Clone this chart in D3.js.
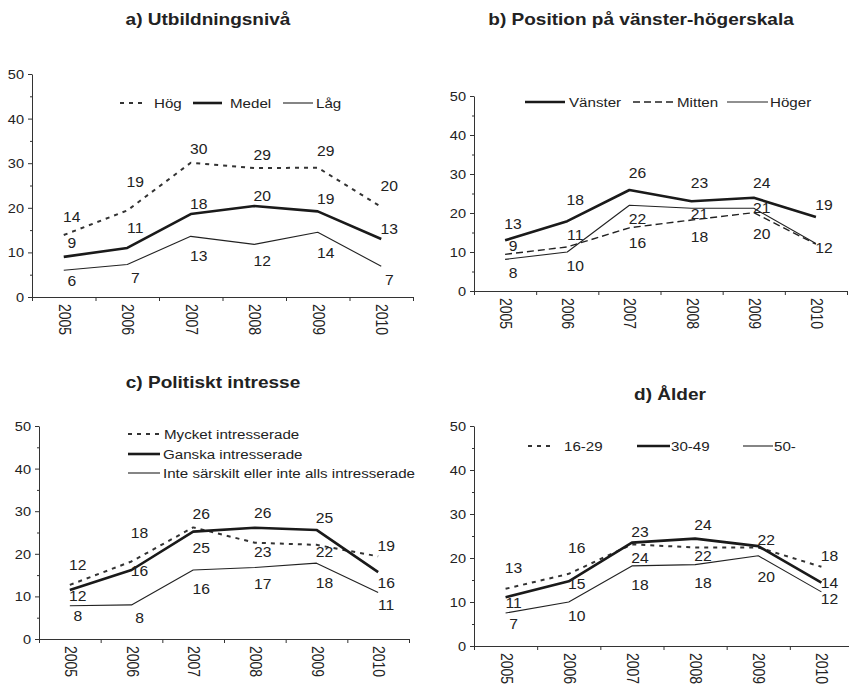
<!DOCTYPE html>
<html>
<head>
<meta charset="utf-8">
<script src="https://cdn.jsdelivr.net/npm/d3@7"></script>
<style>
body { margin: 0; background: #fff; }
text { font-family: "Liberation Sans", Arial, Helvetica, sans-serif; fill: #222; }
</style>
</head>
<body>
<svg width="849" height="688"></svg>
<script>
// shared axes
var years = ["2005", "2006", "2007", "2008", "2009", "2010"];
var yTicks = [0, 10, 20, 30, 40, 50];
var yMinor = [5, 15, 25, 35, 45];

// a) Utbildningsnivå
var utbHog = [13.9, 19.4, 30.1, 28.9, 29.0, 20.2];
var utbHogLbl = [14, 19, 30, 29, 29, 20];
var utbMedel = [9.0, 11.0, 18.6, 20.4, 19.2, 13.0];
var utbMedelLbl = [9, 11, 18, 20, 19, 13];
var utbLag = [6.0, 7.3, 13.6, 11.8, 14.5, 6.9];
var utbLagLbl = [6, 7, 13, 12, 14, 7];

// b) Position på vänster-högerskala
var posVanster = [13.0, 17.9, 25.9, 23.0, 23.9, 19.0];
var posVansterLbl = [13, 18, 26, 23, 24, 19];
var posMitten = [9.4, 11.3, 16.2, 18.2, 20.1, 12.0];
var posMittenLbl = [9, 11, 16, 18, 20, ""];
var posHoger = [8.1, 10.0, 22.0, 21.2, 21.2, 12.2];
var posHogerLbl = [8, 10, 22, 21, 21, 12];

// c) Politiskt intresse
var intMycket = [12.7, 18.2, 26.2, 22.6, 22.1, 19.4];
var intMycketLbl = [12, 18, 26, 23, 22, 19];
var intGanska = [11.5, 16.2, 25.2, 26.1, 25.6, 15.7];
var intGanskaLbl = [12, 16, 25, 26, 25, 16];
var intInte = [7.8, 8.0, 16.2, 16.8, 17.8, 10.9];
var intInteLbl = [8, 8, 16, 17, 18, 11];

// d) Ålder
var alder1629 = [13.0, 16.4, 23.1, 22.4, 22.4, 18.0];
var alder1629Lbl = [13, 16, 23, 22, 22, 18];
var alder3049 = [11.1, 14.7, 23.5, 24.4, 22.7, 14.4];
var alder3049Lbl = [11, 15, 24, 24, "", 14];
var alder50 = [7.5, 10.0, 18.2, 18.5, 20.5, 12.3];
var alder50Lbl = [7, 10, 18, 18, 20, 12];

// text in the original is a little wider than plain Arial
var SX = 1.12;

var styles = {
    dashed: { width: 2, dash: "4,5", color: "#333" },
    thick: { width: 2.6, dash: null, color: "#1a1a1a" },
    thin: { width: 1.1, dash: null, color: "#222" },
    longdash: { width: 1.4, dash: "7,4", color: "#222" }
};

// label placement above (-) or below (+) the line, in units of 15px
var panels = [
    {
        title: "a) Utbildningsnivå", titleX: 208, titleY: 25,
        x0: 32, x1: 413, yTop: 74, yBottom: 297,
        series: [
            { name: "Hög", values: utbHog, labels: utbHogLbl, style: "dashed",
              place: [-1.2, -1.9, -0.9, -0.9, -1.1, -1.4], legend: { x1: 120, x2: 147, tx: 154, y: 103 } },
            { name: "Medel", values: utbMedel, labels: utbMedelLbl, style: "thick",
              place: [-0.9, -1.3, -0.7, -0.7, -0.8, -0.7], legend: { x1: 193, x2: 222, tx: 230, y: 103 } },
            { name: "Låg", values: utbLag, labels: utbLagLbl, style: "thin",
              place: [0.7, 0.9, 1.3, 1.1, 1.4, 0.9], legend: { x1: 283, x2: 313, tx: 316, y: 103 } }
        ]
    },
    {
        title: "b) Position på vänster-högerskala", titleX: 641, titleY: 25,
        x0: 474, x1: 847, yTop: 96, yBottom: 291,
        series: [
            { name: "Vänster", values: posVanster, labels: posVansterLbl, style: "thick",
              place: [-1.1, -1.4, -1.1, -1.2, -1, -0.8], legend: { x1: 525, x2: 565, tx: 569, y: 102 } },
            { name: "Mitten", values: posMitten, labels: posMittenLbl, style: "longdash",
              place: [-0.55, -0.8, 1, 1.1, 1.4, 0], legend: { x1: 633, x2: 675, tx: 677, y: 102 } },
            { name: "Höger", values: posHoger, labels: posHogerLbl, style: "thin",
              place: [0.9, 0.9, 0.9, 0.4, 0, 0.3], legend: { x1: 727, x2: 768, tx: 770, y: 102 } }
        ]
    },
    {
        title: "c) Politiskt intresse", titleX: 213, titleY: 388,
        x0: 39, x1: 409, yTop: 426, yBottom: 639,
        series: [
            { name: "Mycket intresserade", values: intMycket, labels: intMycketLbl, style: "dashed",
              place: [-1.3, -1.9, -0.9, 0.6, 0.5, -0.7], legend: { x1: 128, x2: 160, tx: 164, y: 434 } },
            { name: "Ganska intresserade", values: intGanska, labels: intGanskaLbl, style: "thick",
              place: [0.4, 0.1, 1.1, -1, -0.8, 0.7], legend: { x1: 128, x2: 160, tx: 163, y: 454 } },
            { name: "Inte särskilt eller inte alls intresserade", values: intInte, labels: intInteLbl, style: "thin",
              place: [0.7, 0.9, 1.3, 1.1, 1.3, 0.8], legend: { x1: 128, x2: 160, tx: 163, y: 473 } }
        ]
    },
    {
        title: "d) Ålder", titleX: 670, titleY: 400,
        x0: 474, x1: 853, yTop: 426, yBottom: 646,
        series: [
            { name: "16-29", values: alder1629, labels: alder1629Lbl, style: "dashed",
              place: [-1.4, -1.7, -0.8, 0.6, -0.5, -0.7], legend: { x1: 528, x2: 555, tx: 564, y: 446 } },
            { name: "30-49", values: alder3049, labels: alder3049Lbl, style: "thick",
              place: [0.4, 0.2, 1, -0.9, 0, 0], legend: { x1: 637, x2: 670, tx: 671, y: 446 } },
            { name: "50-", values: alder50, labels: alder50Lbl, style: "thin",
              place: [0.7, 0.9, 1.3, 1.2, 1.4, 0.5], legend: { x1: 743, x2: 773, tx: 774, y: 446 } }
        ]
    }
];

var svg = d3.select("svg");

var addText = function(g, x, y, str, size, anchor, extra)
{
    return g.append("text")
        .attr("transform", "translate(" + x + "," + y + ") scale(" + SX + ",1)" + (extra || ""))
        .attr("text-anchor", anchor)
        .style("font-size", size + "px")
        .text(str);
}

var applyStyle = function(sel, st)
{
    sel.attr("fill", "none")
        .attr("stroke", st.color)
        .attr("stroke-width", st.width)
        .attr("stroke-linejoin", "round")
        .attr("stroke-dasharray", st.dash);
}

var drawPanel = function(p)
{
    var g = svg.append("g");

    var xScale = d3.scaleBand().domain(years).range([p.x0, p.x1]);
    var yScale = d3.scaleLinear().domain([0, 50]).range([p.yBottom, p.yTop]);
    var xMid = function(i) { return xScale(years[i]) + xScale.bandwidth() / 2; };

    // title
    addText(g, p.titleX, p.titleY, p.title, 17, "middle").style("font-weight", "bold");

    // y axis, major + minor ticks
    var yAxis = g.append("g").attr("transform", "translate(" + p.x0 + ",0)")
        .call(d3.axisLeft(yScale).tickValues(yTicks).tickSize(4).tickSizeOuter(0).tickFormat(d3.format("d")));
    yAxis.selectAll("text").remove();
    g.append("g").attr("transform", "translate(" + p.x0 + ",0)")
        .call(d3.axisLeft(yScale).tickValues(yMinor).tickSize(2).tickFormat(""))
        .select(".domain").remove();
    yTicks.forEach(function(t) {
        addText(g, p.x0 - 8, yScale(t) + 5, t, 13, "end");
    });

    // x axis with ticks between the years
    var edge = d3.scaleLinear().domain([0, years.length]).range([p.x0, p.x1]);
    g.append("g").attr("transform", "translate(0," + p.yBottom + ")")
        .call(d3.axisBottom(edge).tickValues(d3.range(years.length + 1)).tickSize(4).tickSizeOuter(0).tickFormat(""));
    years.forEach(function(yr, i) {
        addText(g, xMid(i) - 5, p.yBottom + 7, yr, 14, "start", " rotate(90)");
    });
    g.selectAll(".domain, .tick line").attr("stroke", "#333");

    var line = d3.line()
        .x(function(d, i) { return xMid(i); })
        .y(function(d) { return yScale(d); });

    p.series.forEach(function(s) {
        var st = styles[s.style];
        g.append("path").datum(s.values).attr("d", line).call(applyStyle, st);

        s.values.forEach(function(v, i) {
            if (s.labels[i] === "") return;
            addText(g, xMid(i) + 8, yScale(v) + s.place[i] * 15 + 5, s.labels[i], 14, "middle");
        });

        var lg = s.legend;
        g.append("line").attr("x1", lg.x1).attr("x2", lg.x2).attr("y1", lg.y).attr("y2", lg.y).call(applyStyle, st);
        addText(g, lg.tx, lg.y + 5, s.name, 13.5, "start");
    });
}

panels.forEach(drawPanel);
</script>
</body>
</html>
